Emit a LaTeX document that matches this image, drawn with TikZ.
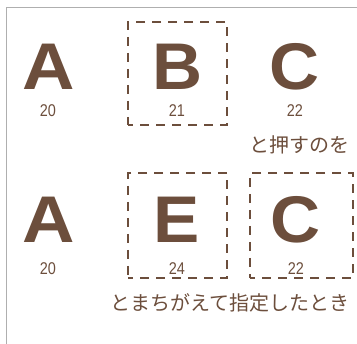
\documentclass[tikz,border=0pt]{standalone}
\usepackage{fontspec}
\setmainfont{Liberation Sans}
\newfontfamily\jpfont{Noto Sans CJK JP}
\usepackage{tikz}
\usetikzlibrary{positioning, calc}
\definecolor{inkbrown}{RGB}{108,78,60}
\definecolor{framegray}{RGB}{175,175,175}

\begin{document}
\begin{tikzpicture}[
  x=1pt, y=-1pt,
  glyph/.style={inner sep=0pt, anchor=base, text=inkbrown,
    font=\bfseries\fontsize{66}{66}\selectfont},
  code/.style={inner sep=0pt, anchor=base, text=inkbrown,
    font=\fontsize{17}{17}\selectfont},
  note/.style={inner sep=0pt, anchor=base east, text=inkbrown,
    font=\jpfont\fontsize{20}{20}\selectfont},
  selbox/.style={rectangle, draw=inkbrown, line width=1.3pt,
    dash pattern=on 9pt off 7pt, dash phase=4pt, inner sep=0pt},
]
  \useasboundingbox (0,0) rectangle (357,344);

  % Page frame
  \coordinate (frametl) at (6,7);
  \coordinate (frametr) at (357,7);
  \coordinate (framebl) at (6,344);
  \draw[framegray, line width=0.6pt] (frametr) -- (frametl) -- (framebl);

  % First row: A B C
  \node[glyph] (a1) at (48.5,90) {\scalebox{1.1}[1]{A}};
  \node[glyph] (b1) at (177.5,90) {\scalebox{1.05}[1]{B}};
  \node[glyph] (c1) at (295,90) {\scalebox{1.05}[1]{C}};
  \node[code] (a1n) at (48,117) {\scalebox{0.85}[1]{20}};
  \node[code] (b1n) at (177,117) {\scalebox{0.85}[1]{21}};
  \node[code] (c1n) at (295,117) {\scalebox{0.85}[1]{22}};
  \node[selbox, minimum width=99pt, minimum height=103pt] (b1box) at (177.5,73.5) {};
  \node[note] (press) at (350,152.5) {と押すのを};

  % Second row: A E C
  \node[glyph] (a2) at (48.5,243) {\scalebox{1.1}[1]{A}};
  \node[glyph] (e2) at (177,243) {\scalebox{1.05}[1]{E}};
  \node[glyph] (c2) at (296,243) {\scalebox{1.05}[1]{C}};
  \node[code] (a2n) at (48,275) {\scalebox{0.85}[1]{20}};
  \node[code] (e2n) at (177,275) {\scalebox{0.85}[1]{24}};
  \node[code] (c2n) at (296,275) {\scalebox{0.85}[1]{22}};
  \node[selbox, minimum width=99pt, minimum height=105pt] (e2box) at (177.5,225.5) {};
  \node[selbox, minimum width=103pt, minimum height=105pt] (c2box) at (301.5,225.5) {};
  \node[note] (mistake) at (350,310.5) {とまちがえて指定したとき};
\end{tikzpicture}
\end{document}
